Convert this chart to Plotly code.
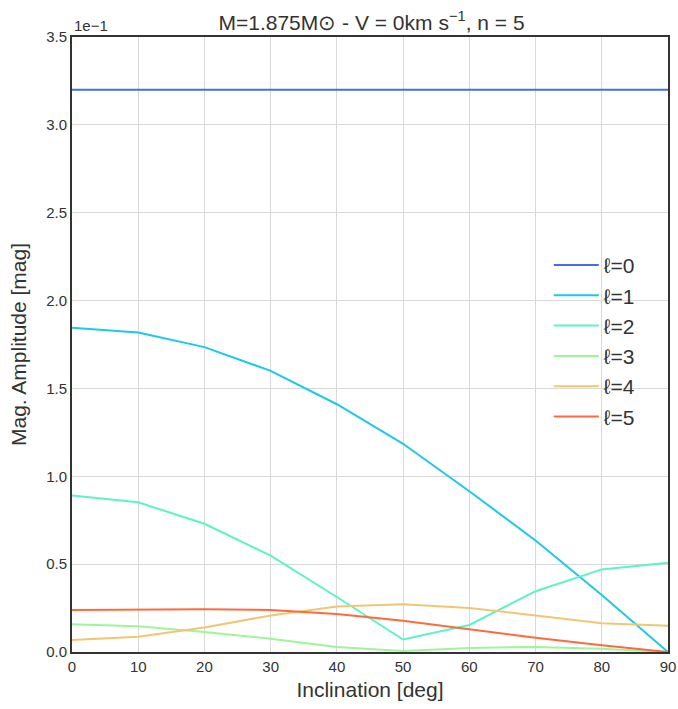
import plotly.graph_objects as go

inclination = [0, 10, 20, 30, 40, 50, 60, 70, 80, 90]
# amplitudes in units of 1e-1 mag
amp_l0 = [3.20, 3.20, 3.20, 3.20, 3.20, 3.20, 3.20, 3.20, 3.20, 3.20]
amp_l1 = [1.845, 1.818, 1.735, 1.600, 1.410, 1.185, 0.915, 0.635, 0.325, 0.0]
amp_l2 = [0.890, 0.852, 0.730, 0.548, 0.313, 0.071, 0.154, 0.346, 0.470, 0.508]
amp_l3 = [0.158, 0.147, 0.114, 0.075, 0.029, 0.006, 0.023, 0.029, 0.019, 0.0]
amp_l4 = [0.068, 0.087, 0.139, 0.208, 0.259, 0.272, 0.251, 0.207, 0.164, 0.149]
amp_l5 = [0.239, 0.241, 0.244, 0.239, 0.216, 0.178, 0.129, 0.081, 0.039, 0.0]

series = [amp_l0, amp_l1, amp_l2, amp_l3, amp_l4, amp_l5]
names = ["ℓ=0", "ℓ=1", "ℓ=2", "ℓ=3", "ℓ=4", "ℓ=5"]
colors = ["#3f6ff0", "#1ec8e8", "#5cf4c6", "#9ef59a", "#f0c674", "#ff6a3d"]

yticks = [0.0, 0.5, 1.0, 1.5, 2.0, 2.5, 3.0, 3.5]
xticks = [0, 10, 20, 30, 40, 50, 60, 70, 80, 90]

fig = go.Figure()
for vals, nm, c in zip(series, names, colors):
    fig.add_trace(go.Scatter(x=inclination, y=vals, mode="lines", name=nm,
                             line=dict(color=c, width=2)))

font_family = "Liberation Sans, Arial, sans-serif"
fig.update_layout(
    width=678, height=709,
    margin=dict(l=72, r=10, t=37, b=57, autoexpand=False),
    paper_bgcolor="white", plot_bgcolor="white",
    font=dict(family=font_family, color="#333333"),
    title=dict(text="M=1.875M⊙ - V = 0km s<sup>−1</sup>, n = 5",
               x=0.548, xanchor="center", y=0.968, yanchor="middle",
               font=dict(size=21, color="#333333")),
    showlegend=True,
    legend=dict(x=0.80, y=0.662, xanchor="left", yanchor="top",
                bgcolor="rgba(0,0,0,0)", font=dict(size=21, color="#333333"),
                tracegroupgap=0, itemwidth=45),
    xaxis=dict(range=[0, 90], tickvals=xticks, ticktext=[str(v) for v in xticks],
               automargin=False,
               showgrid=True, gridcolor="#d9d9d9", gridwidth=1,
               showline=True, linecolor="#333333", linewidth=2, mirror=True,
               ticks="", zeroline=False,
               tickfont=dict(size=15, color="#333333"),
               title=dict(text="Inclination [deg]", font=dict(size=21, color="#333333"), standoff=8)),
    yaxis=dict(range=[0, 3.5], tickvals=yticks, ticktext=[f"{v:.1f}" for v in yticks],
               automargin=False,
               showgrid=True, gridcolor="#d9d9d9", gridwidth=1,
               showline=True, linecolor="#333333", linewidth=2, mirror=True,
               ticks="", zeroline=False,
               tickfont=dict(size=15, color="#333333"),
               title=dict(text="Mag. Amplitude [mag]", font=dict(size=21, color="#333333"), standoff=14)),
)
fig.add_annotation(text="1e−1", xref="paper", yref="paper", x=0.0, y=1.0,
                   xanchor="left", yanchor="bottom", showarrow=False,
                   font=dict(size=15, color="#333333"), yshift=1)
fig.write_html("out.html")
